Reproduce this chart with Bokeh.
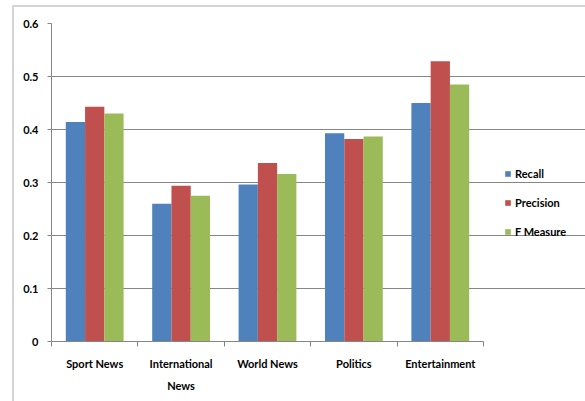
from bokeh.plotting import figure
from bokeh.models import FixedTicker, Legend, LegendItem, InlineStyleSheet
from bokeh.embed import file_html
from bokeh.resources import INLINE

categories = ["Sport News", "International\nNews", "World News", "Politics", "Entertainment"]
series_names = ["Recall", "Precision", "F Measure"]
recall = [0.414, 0.260, 0.296, 0.393, 0.450]
precision = [0.443, 0.294, 0.337, 0.382, 0.529]
f_measure = [0.430, 0.275, 0.316, 0.387, 0.485]
colors = ["#4F81BD", "#C0504D", "#9BBB59"]
y_ticks = [0, 0.1, 0.2, 0.3, 0.4, 0.5, 0.6]

FONT = "Lato"
n = len(categories)
# plot frame spans to the right edge so the legend can sit inside it;
# axis and grid are bounded to the category extent
x_end = n * 534 / 432

p = figure(width=585, height=401, x_range=(0, x_end), y_range=(0, 0.6),
           output_backend="svg", toolbar_location=None,
           min_border_left=51, min_border_right=0, min_border_top=23, min_border_bottom=60)
p.outline_line_color = None
p.background_fill_color = None
p.border_fill_color = "white"

bw = 0.223
offsets = [-bw, 0, bw]
renderers = []
for vals, off, col in zip([recall, precision, f_measure], offsets, colors):
    xs = [i + 0.5 + off for i in range(n)]
    r = p.vbar(x=xs, top=vals, width=bw, fill_color=col, line_color=None)
    renderers.append(r)

# x axis
p.xaxis.bounds = (0, n)
p.xaxis.ticker = FixedTicker(ticks=[i + 0.5 for i in range(n)],
                             minor_ticks=list(range(n + 1)))
p.xaxis.major_label_overrides = {i + 0.5: c for i, c in enumerate(categories)}
p.xaxis.major_tick_out = 0
p.xaxis.major_tick_in = 0
p.xaxis.minor_tick_out = 5
p.xaxis.minor_tick_in = 0
p.xaxis.minor_tick_line_color = "#868686"
p.xaxis.axis_line_color = "#868686"
p.xaxis.major_label_text_font = FONT
p.xaxis.major_label_text_font_style = "bold"
p.xaxis.major_label_text_font_size = "11px"
p.xaxis.major_label_text_color = "black"
p.xaxis.major_label_standoff = 10
p.xaxis.major_label_text_line_height = 1.7

# y axis
p.yaxis.ticker = FixedTicker(ticks=y_ticks)
p.yaxis.major_label_overrides = {t: ("0" if t == 0 else f"{t:.1f}") for t in y_ticks}
p.yaxis.major_tick_out = 4
p.yaxis.major_tick_in = 0
p.yaxis.minor_tick_line_color = None
p.yaxis.major_tick_line_color = "#868686"
p.yaxis.axis_line_color = "#868686"
p.yaxis.major_label_text_font = FONT
p.yaxis.major_label_text_font_style = "bold"
p.yaxis.major_label_text_font_size = "11px"
p.yaxis.major_label_text_color = "black"
p.yaxis.major_label_standoff = 9

p.xgrid.grid_line_color = None
p.ygrid.ticker = FixedTicker(ticks=y_ticks)
p.ygrid.bounds = (0, n)
p.ygrid.grid_line_color = "#868686"

legend = Legend(items=[LegendItem(label=s, renderers=[r]) for s, r in zip(series_names, renderers)],
                location=(453, 103), glyph_width=7, glyph_height=7, label_height=10,
                spacing=16, padding=0, margin=0, label_standoff=4,
                border_line_color=None, background_fill_alpha=0,
                label_text_font=FONT, label_text_font_style="bold",
                label_text_font_size="11px", label_text_color="black")
p.add_layout(legend)

p.stylesheets = [InlineStyleSheet(css=(
    ":host::after { content: ''; position: absolute; left: 12px; top: 5px; "
    "width: 600px; height: 420px; border: 2px solid #d4d4d4; "
    "pointer-events: none; box-sizing: border-box; }"
    ":host { position: relative; overflow: hidden; }"
))]

open("out.html", "w").write(file_html(p, INLINE))
